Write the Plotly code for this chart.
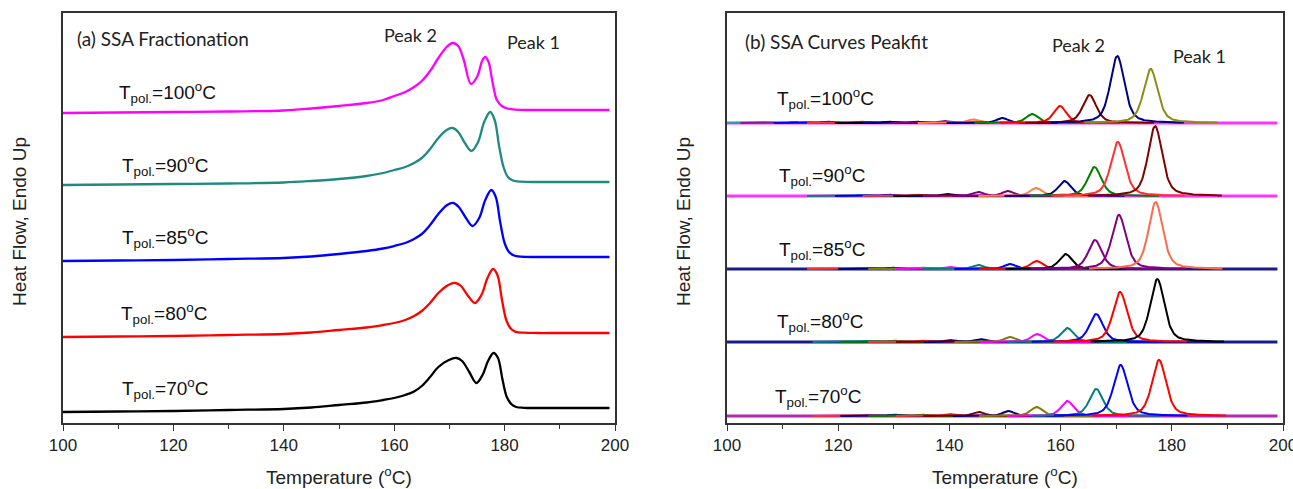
import numpy as np
import plotly.graph_objects as go
from plotly.subplots import make_subplots

# ---------------- Panel (a): SSA fractionation DSC traces ----------------
# heat flow in arbitrary units, relative to each trace's own flat end
T_LABELS = ["100", "90", "85", "80", "70"]
A_COLORS = ["#ff00ff", "#1f8a80", "#0000ff", "#ff0000", "#000000"]
A_OFFSETS = [31.3, 24.1, 16.6, 9.0, 1.5]

a_T_100 = [100, 110, 120, 130, 140, 145, 150, 155, 158, 160, 162, 163.6, 165, 166.5, 168, 169.5,
           170.6, 171.6, 172.6, 173.9, 175.0, 176.0, 176.5, 177.1, 177.8, 178.6, 179.5, 180.5, 182, 185, 190, 199]
a_H_100 = [-0.3, -0.25, -0.2, -0.15, -0.05, 0.15, 0.4, 0.7, 1.0, 1.4, 1.8, 2.3, 2.9, 3.9, 5.2, 6.3,
           6.7, 6.4, 5.0, 2.6, 3.3, 5.0, 5.3, 4.8, 2.8, 1.0, 0.4, 0.15, 0.03, 0, 0, 0]

a_T_90 = [100, 110, 120, 130, 140, 145, 150, 155, 158, 160, 162, 163.6, 165, 166.5, 168, 169.5,
          170.6, 171.6, 172.8, 174.0, 175.2, 176.3, 177.4, 178.2, 179.0, 179.8, 180.6, 181.5, 183, 186, 190, 199]
a_H_90 = [-0.3, -0.25, -0.2, -0.15, -0.05, 0.1, 0.3, 0.6, 0.9, 1.2, 1.5, 1.9, 2.4, 3.3, 4.4, 5.2,
          5.4, 5.0, 3.9, 3.1, 4.0, 6.0, 7.0, 6.2, 3.6, 1.5, 0.5, 0.15, 0.03, 0, 0, 0]

a_T_85 = [100, 110, 120, 130, 140, 145, 150, 155, 158, 160, 162, 163.6, 165, 166.5, 168, 169.6,
          170.7, 171.7, 173.0, 174.2, 175.4, 176.5, 177.6, 178.4, 179.2, 180.0, 180.8, 181.7, 183, 186, 190, 199]
a_H_85 = [-0.4, -0.35, -0.3, -0.2, -0.1, 0.05, 0.3, 0.6, 0.85, 1.1, 1.4, 1.8, 2.3, 3.2, 4.3, 5.2,
          5.4, 5.0, 3.9, 3.1, 3.9, 5.7, 6.7, 6.0, 3.5, 1.4, 0.5, 0.15, 0.03, 0, 0, 0]

a_T_80 = [100, 110, 120, 130, 140, 145, 150, 155, 158, 160, 162, 163.6, 165, 166.5, 168, 169.8,
          171.1, 172.1, 173.4, 174.6, 175.8, 176.9, 177.9, 178.7, 179.5, 180.3, 181.1, 182.0, 183.5, 186, 190, 199]
a_H_80 = [-0.4, -0.35, -0.3, -0.2, -0.1, 0.05, 0.3, 0.55, 0.8, 1.0, 1.3, 1.7, 2.2, 3.0, 4.0, 4.8,
          5.0, 4.7, 3.7, 3.0, 3.8, 5.5, 6.4, 5.8, 3.4, 1.3, 0.45, 0.12, 0.03, 0, 0, 0]

a_T_70 = [100, 110, 120, 130, 140, 145, 150, 155, 158, 160, 162, 163.6, 165, 166.5, 168, 169.9,
          171.3, 172.3, 173.6, 174.9, 176.0, 177.0, 178.0, 178.8, 179.6, 180.4, 181.2, 182.1, 183.5, 186, 190, 199]
a_H_70 = [-0.4, -0.35, -0.3, -0.2, -0.1, 0.05, 0.3, 0.55, 0.8, 1.0, 1.3, 1.65, 2.2, 3.1, 4.1, 4.8,
          5.0, 4.7, 3.6, 2.5, 3.3, 4.7, 5.5, 5.0, 2.9, 1.1, 0.4, 0.1, 0.02, 0, 0, 0]

A_T = [a_T_100, a_T_90, a_T_85, a_T_80, a_T_70]
A_H = [a_H_100, a_H_90, a_H_85, a_H_80, a_H_70]

# ---------------- Panel (b): peak-fit components ----------------
B_OFFSETS = [30.0, 22.7, 15.4, 8.1, 0.7]
B_BASE_COLORS = ["#ff33ff", "#ff33ff", "#1a1a8c", "#1a1a8c", "#b02ab0"]

# fitted peak centres (°C), heights (a.u.), FWHM (°C) and colours, per Tpol
b_c_100 = [107, 112, 118, 124, 129, 134, 139, 144.3, 149.5, 154.9, 159.9, 165.2, 170.2, 176.2]
b_h_100 = [0.08, 0.1, 0.15, 0.15, 0.15, 0.15, 0.2, 0.35, 0.5, 0.9, 1.7, 2.8, 6.7, 5.4]
b_w_100 = [2.4, 2.4, 2.4, 2.4, 2.4, 2.4, 2.4, 2.5, 2.5, 2.6, 2.7, 2.9, 3.0, 3.0]
b_k_100 = ["#2ca0a0", "#8020a0", "#0000ff", "#ff3030", "#000000", "#000080", "#800080",
           "#ff7f40", "#000080", "#008000", "#ff0000", "#800000", "#000080", "#8c8c1a"]

b_c_90 = [124, 129, 134, 139.5, 145.2, 150.5, 155.6, 160.7, 166.1, 170.3, 177.0]
b_h_90 = [0.1, 0.15, 0.15, 0.2, 0.4, 0.5, 0.8, 1.5, 2.9, 5.4, 7.0]
b_w_90 = [2.4, 2.4, 2.4, 2.4, 2.5, 2.5, 2.6, 2.7, 2.9, 3.0, 3.0]
b_k_90 = ["#008080", "#0000ff", "#ff3030", "#000000", "#800080", "#800080",
          "#ff7f40", "#000080", "#008000", "#ff3030", "#800000"]

b_c_85 = [124, 129.6, 135, 140, 145.2, 150.9, 155.7, 160.9, 166.2, 170.5, 177.1]
b_h_85 = [0.1, 0.15, 0.15, 0.2, 0.4, 0.5, 0.8, 1.5, 2.9, 5.4, 6.7]
b_w_85 = [2.4, 2.4, 2.4, 2.4, 2.5, 2.5, 2.6, 2.7, 2.9, 3.0, 3.0]
b_k_85 = ["#ff3030", "#000080", "#808000", "#ff00ff", "#008080", "#0000ff",
          "#ff0000", "#000000", "#800080", "#800080", "#ff6a4d"]

b_c_80 = [125, 130, 135, 140, 145.4, 150.9, 155.8, 161.2, 166.4, 170.7, 177.4]
b_h_80 = [0.1, 0.15, 0.15, 0.2, 0.3, 0.5, 0.8, 1.4, 2.8, 5.0, 6.3]
b_w_80 = [2.4, 2.4, 2.4, 2.4, 2.5, 2.5, 2.6, 2.7, 2.9, 3.0, 3.0]
b_k_80 = ["#008080", "#008000", "#ff3030", "#800000", "#000080", "#808000",
          "#ff00ff", "#008080", "#0000ff", "#ff0000", "#000000"]

b_c_70 = [125, 130, 135, 140, 145.3, 150.6, 155.7, 161.2, 166.4, 170.8, 177.7]
b_h_70 = [0.1, 0.15, 0.15, 0.2, 0.4, 0.5, 0.9, 1.5, 2.7, 5.1, 5.6]
b_w_70 = [2.4, 2.4, 2.4, 2.4, 2.5, 2.5, 2.6, 2.7, 2.9, 3.0, 3.0]
b_k_70 = ["#ff3030", "#000080", "#008000", "#ff3030", "#800000", "#000080",
          "#808000", "#ff00ff", "#008080", "#0000ff", "#ff0000"]

B_C = [b_c_100, b_c_90, b_c_85, b_c_80, b_c_70]
B_H = [b_h_100, b_h_90, b_h_85, b_h_80, b_h_70]
B_W = [b_w_100, b_w_90, b_w_85, b_w_80, b_w_70]
B_K = [b_k_100, b_k_90, b_k_85, b_k_80, b_k_70]

X_TICKS = [100, 120, 140, 160, 180, 200]

ARIAL = "Liberation Sans, Arial, sans-serif"
CALIBRI = "Lato, Open Sans, sans-serif"


def pseudo_voigt(x, c, h, w, eta=0.5):
    g = np.exp(-4 * np.log(2) * (x - c) ** 2 / w ** 2)
    lo = 1.0 / (1.0 + ((x - c) / (w / 2)) ** 2)
    return h * (eta * lo + (1 - eta) * g)


fig = make_subplots(rows=1, cols=2, horizontal_spacing=0.05)

# panel (a) traces
for T, H, off, col in zip(A_T, A_H, A_OFFSETS, A_COLORS):
    fig.add_trace(go.Scatter(x=T, y=[off + h for h in H], mode="lines",
                             line=dict(color=col, width=2.3, shape="spline", smoothing=1.0),
                             showlegend=False, hoverinfo="skip"), row=1, col=1)

# panel (b) baselines then fitted components
for i in range(5):
    off = B_OFFSETS[i]
    fig.add_trace(go.Scatter(x=[100, 199], y=[off, off], mode="lines",
                             line=dict(color=B_BASE_COLORS[i], width=3),
                             showlegend=False, hoverinfo="skip"), row=1, col=2)
    for c, h, w, k in zip(B_C[i], B_H[i], B_W[i], B_K[i]):
        x = np.linspace(max(100, c - 4 * w), min(199, c + 4 * w), 160)
        fig.add_trace(go.Scatter(x=x, y=off + pseudo_voigt(x, c, h, w), mode="lines",
                                 line=dict(color=k, width=2),
                                 showlegend=False, hoverinfo="skip"), row=1, col=2)

W, Hpx = 1293, 489
left_dom = [63 / W, 615 / W]
right_dom = [727 / W, 1283 / W]
ydom = [1 - 423 / Hpx, 1 - 13 / Hpx]

axis_common = dict(range=[100, 200], tickvals=X_TICKS, ticks="outside", ticklen=6,
                   tickwidth=1.3, tickcolor="#333", showline=True, linecolor="#333",
                   linewidth=1.5, mirror=True, showgrid=False, zeroline=False,
                   automargin=False, ticklabeloverflow="allow",
                   tickfont=dict(family=ARIAL, size=17, color="#222"),
                   minor=dict(dtick=10, tick0=100, ticks="outside", ticklen=4,
                              tickwidth=1.3, tickcolor="#333", showgrid=False))
yaxis_common = dict(range=[0, 41], showticklabels=False, ticks="", showline=True,
                    linecolor="#333", linewidth=1.5, mirror=True, showgrid=False,
                    zeroline=False, automargin=False)

fig.update_layout(
    width=W, height=Hpx, margin=dict(l=0, r=0, t=0, b=0, autoexpand=False),
    plot_bgcolor="white", paper_bgcolor="white",
    xaxis=dict(domain=left_dom, **axis_common),
    xaxis2=dict(domain=right_dom, **axis_common),
    yaxis=dict(domain=ydom, **yaxis_common),
    yaxis2=dict(domain=ydom, **yaxis_common),
)

ann = []
# row labels
a_lab_x = [109.8, 110.4, 110.4, 110.2, 110.4]
a_lab_y = [33.1, 25.8, 18.6, 11.0, 3.5]
b_lab_x = [108.6, 109.0, 109.0, 108.6, 108.3]
b_lab_y = [32.5, 24.8, 17.4, 10.2, 2.7]
for i, t in enumerate(T_LABELS):
    txt = "T<sub>pol.</sub>=" + t + "<sup>o</sup>C"
    ann.append(dict(x=a_lab_x[i], y=a_lab_y[i], xref="x", yref="y", text=txt,
                    showarrow=False, xanchor="left", yanchor="middle",
                    font=dict(family=ARIAL, size=19, color="#111")))
    ann.append(dict(x=b_lab_x[i], y=b_lab_y[i], xref="x2", yref="y2", text=txt,
                    showarrow=False, xanchor="left", yanchor="middle",
                    font=dict(family=ARIAL, size=19, color="#111")))

# panel captions and peak names
for x, y, t, fs in [
    (75, 38, "(a) SSA Fractionation", 19),
    (743, 42, "(b) SSA Curves Peakfit", 19),
    (382, 35, "Peak 2", 18),
    (505, 42, "Peak 1", 18),
    (1050, 45, "Peak 2", 18),
    (1171, 56, "Peak 1", 18),
]:
    ann.append(dict(x=x / W, y=1 - y / Hpx, xref="paper", yref="paper", text=t,
                    showarrow=False, xanchor="left", yanchor="middle",
                    font=dict(family=CALIBRI, size=fs, color="#222")))

# axis titles
for xc in [(63 + 615) / 2, (727 + 1283) / 2]:
    ann.append(dict(x=xc / W, y=1 - 476 / Hpx, xref="paper", yref="paper",
                    text="Temperature (<sup>o</sup>C)", showarrow=False,
                    xanchor="center", yanchor="middle",
                    font=dict(family=ARIAL, size=19, color="#222")))
for xc in [19, 683]:
    ann.append(dict(x=xc / W, y=1 - 222 / Hpx, xref="paper", yref="paper",
                    text="Heat Flow, Endo Up", showarrow=False, textangle=-90,
                    xanchor="center", yanchor="middle",
                    font=dict(family=ARIAL, size=19, color="#222")))

fig.update_layout(annotations=ann)
fig.write_html("out.html")
